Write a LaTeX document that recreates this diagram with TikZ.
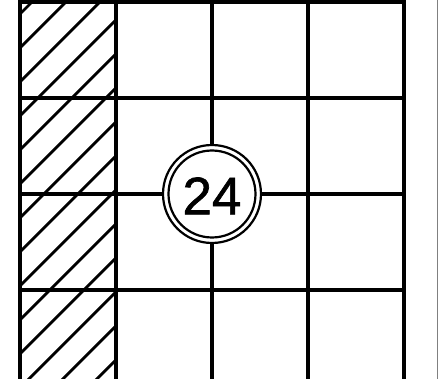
\documentclass[tikz,border=0pt]{standalone}
\usepackage{fontspec}
\setmainfont{Liberation Sans}
\newfontfamily\numfont[FakeBold=1.2]{Liberation Sans}
\begin{document}
\begin{tikzpicture} [x = 96pt, y = 96pt]
	\useasboundingbox (-0.2083,-3.9271) rectangle (4.3542,0.0208);
	% hatched left column
	\scope
	\clip (0,-3.95) rectangle (1,0);
	\foreach \d in {0,...,14}
		\draw [line width = 2.8pt] (0,-0.125-0.354*\d) -- (1,0.875-0.354*\d);
	\endscope
	% grid
	\draw [line width = 3.6pt] (0,-3.95) -- (0,0) -- (4,0) -- (4,-3.95);
	\draw [line width = 3.6pt] (1,-3.95) -- (1,0);
	\draw [line width = 3.6pt] (2,-3.95) -- (2,0);
	\draw [line width = 3.6pt] (3,-3.95) -- (3,0);
	\draw [line width = 3.6pt] (0,-1) -- (4,-1);
	\draw [line width = 3.6pt] (0,-2) -- (4,-2);
	\draw [line width = 3.6pt] (0,-3) -- (4,-3);
	\draw [gray, line width = 0.8pt] (4.344,-3.95) -- (4.344,0.05);
	% numbered circle
	\draw [line width = 2.2pt, fill = white] (2,-2) circle (49pt);
	\draw [line width = 2.2pt] (2,-2) circle (43.5pt);
	\node (num) at (2,-2.02) {\numfont\fontsize{53}{53}\selectfont 24};
\end{tikzpicture}
\end{document}
